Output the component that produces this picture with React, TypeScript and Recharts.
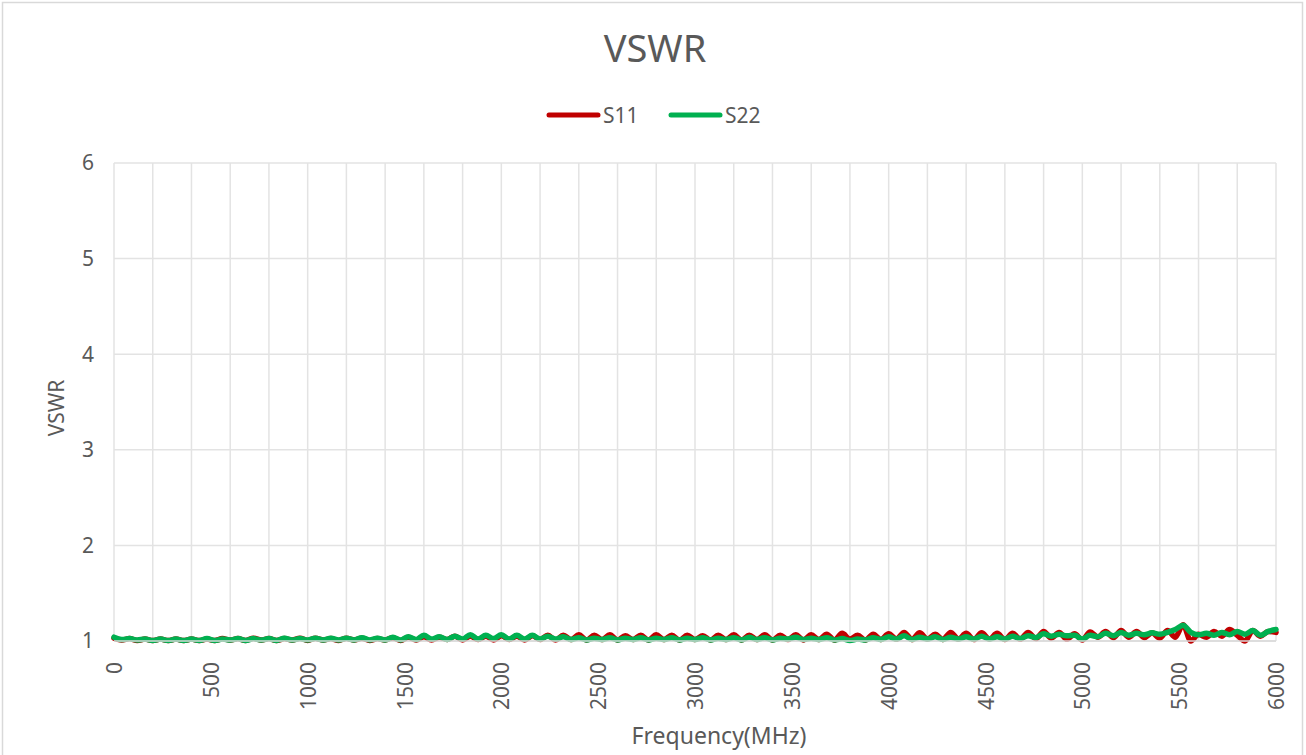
import React from 'react';
import { LineChart, Line, XAxis, YAxis, CartesianGrid } from 'recharts';

// VSWR samples, one every 40 MHz from 0 to 6000 MHz
const S11 = [
  1.03, 1.01, 1.025, 1.005, 1.02, 1.005, 1.02, 1.005, 1.02, 1.005,
  1.02, 1.005, 1.02, 1.005, 1.025, 1.01, 1.025, 1.005, 1.03, 1.01,
  1.025, 1.005, 1.025, 1.01, 1.03, 1.005, 1.03, 1.01, 1.025, 1.005,
  1.03, 1.01, 1.03, 1.005, 1.025, 1.01, 1.035, 1.005, 1.04, 1.01,
  1.045, 1.01, 1.04, 1.015, 1.05, 1.01, 1.05, 1.015, 1.05, 1.01,
  1.055, 1.015, 1.05, 1.01, 1.055, 1.015, 1.06, 1.01, 1.06, 1.015,
  1.065, 1.01, 1.06, 1.015, 1.065, 1.01, 1.055, 1.015, 1.06, 1.01,
  1.065, 1.015, 1.06, 1.01, 1.06, 1.015, 1.055, 1.01, 1.06, 1.015,
  1.065, 1.01, 1.06, 1.015, 1.065, 1.01, 1.06, 1.015, 1.065, 1.01,
  1.065, 1.015, 1.07, 1.01, 1.08, 1.02, 1.06, 1.01, 1.07, 1.015,
  1.075, 1.02, 1.09, 1.015, 1.085, 1.02, 1.07, 1.015, 1.09, 1.02,
  1.08, 1.015, 1.085, 1.02, 1.08, 1.015, 1.08, 1.02, 1.09, 1.025,
  1.1, 1.03, 1.09, 1.02, 1.075, 1.01, 1.095, 1.04, 1.1, 1.035,
  1.11, 1.04, 1.1, 1.035, 1.085, 1.03, 1.11, 1.04, 1.17, 1.0,
  1.07, 1.04, 1.1, 1.05, 1.12, 1.06, 1.0, 1.11, 1.05, 1.1, 1.09,
];

const S22 = [
  1.04, 1.015, 1.025, 1.01, 1.02, 1.005, 1.02, 1.005, 1.02, 1.005,
  1.02, 1.005, 1.025, 1.005, 1.02, 1.01, 1.025, 1.005, 1.025, 1.01,
  1.025, 1.005, 1.03, 1.01, 1.025, 1.01, 1.03, 1.01, 1.03, 1.01,
  1.03, 1.01, 1.035, 1.01, 1.03, 1.01, 1.04, 1.01, 1.045, 1.015,
  1.06, 1.02, 1.045, 1.015, 1.05, 1.02, 1.065, 1.02, 1.06, 1.025,
  1.065, 1.02, 1.06, 1.02, 1.06, 1.02, 1.05, 1.02, 1.045, 1.015,
  1.035, 1.01, 1.03, 1.015, 1.035, 1.01, 1.03, 1.015, 1.035, 1.01,
  1.03, 1.015, 1.035, 1.01, 1.03, 1.015, 1.035, 1.01, 1.03, 1.015,
  1.035, 1.01, 1.04, 1.015, 1.035, 1.01, 1.03, 1.02, 1.04, 1.015,
  1.03, 1.015, 1.035, 1.01, 1.025, 1.005, 1.02, 1.01, 1.035, 1.015,
  1.045, 1.02, 1.055, 1.015, 1.04, 1.02, 1.045, 1.015, 1.04, 1.02,
  1.045, 1.02, 1.05, 1.02, 1.045, 1.02, 1.05, 1.025, 1.055, 1.035,
  1.075, 1.05, 1.07, 1.055, 1.06, 1.02, 1.06, 1.045, 1.08, 1.055,
  1.09, 1.06, 1.08, 1.065, 1.085, 1.07, 1.09, 1.12, 1.165, 1.09,
  1.065, 1.08, 1.06, 1.09, 1.065, 1.1, 1.07, 1.11, 1.06, 1.1, 1.12,
];

const FREQ_STEP_MHZ = 40;
const X_TICKS = [0, 500, 1000, 1500, 2000, 2500, 3000, 3500, 4000, 4500, 5000, 5500, 6000];
const X_GRID = [
  0, 200, 400, 600, 800, 1000, 1200, 1400, 1600, 1800, 2000, 2200, 2400, 2600, 2800, 3000,
  3200, 3400, 3600, 3800, 4000, 4200, 4400, 4600, 4800, 5000, 5200, 5400, 5600, 5800, 6000,
];
const Y_TICKS = [1, 2, 3, 4, 5, 6];

const SERIES = [
  { key: 'S11', color: '#C00000' },
  { key: 'S22', color: '#00B050' },
];

const TITLE = 'VSWR';
const X_TITLE = 'Frequency(MHz)';
const Y_TITLE = 'VSWR';

const data = S11.map((v, i) => ({ freq: i * FREQ_STEP_MHZ, S11: v, S22: S22[i] }));

const FONT = '"Noto Sans", "DejaVu Sans", sans-serif';
const TEXT = '#595959';
const GRID = '#e3e3e3';

const XTick = (props: any) => {
  const { x, y, payload } = props;
  return (
    <text
      transform={`translate(${x + 8},${y + 21}) rotate(-90)`}
      textAnchor="end"
      fontSize={21}
      fill={TEXT}
      fontFamily={FONT}
    >
      {payload.value}
    </text>
  );
};

export default function App() {
  return (
    <div style={{ position: 'absolute', left: 0, top: 0, width: 1306, height: 755, background: '#fff', overflow: 'hidden' }}>
      <LineChart
        width={1306}
        height={755}
        data={data}
        margin={{ top: 163, right: 30, bottom: 0, left: 0 }}
      >
        <CartesianGrid stroke={GRID} strokeWidth={1.5} verticalValues={X_GRID} horizontalValues={Y_TICKS} />
        <XAxis
          dataKey="freq"
          type="number"
          domain={[0, 6000]}
          ticks={X_TICKS}
          interval={0}
          height={114}
          tickSize={0}
          tickMargin={0}
          tickLine={false}
          axisLine={{ stroke: '#d9d9d9', strokeWidth: 1.5 }}
          tick={<XTick />}
        />
        <YAxis
          type="number"
          domain={[1, 6]}
          ticks={Y_TICKS}
          width={114}
          tickSize={0}
          tickMargin={20}
          tickLine={false}
          axisLine={false}
          tick={{ fill: TEXT, fontSize: 21, fontFamily: FONT }}
        />
        {SERIES.map((s) => (
          <Line
            key={s.key}
            dataKey={s.key}
            name={s.key}
            type="monotone"
            stroke={s.color}
            strokeWidth={5.5}
            strokeLinecap="round"
            strokeLinejoin="round"
            dot={false}
            activeDot={false}
            isAnimationActive={false}
          />
        ))}
      </LineChart>
      <svg
        width={1306}
        height={755}
        style={{ position: 'absolute', left: 0, top: 0, pointerEvents: 'none' }}
      >
        <rect x={2.5} y={2.5} width={1300} height={780} fill="none" stroke="#d9d9d9" strokeWidth={1.5} />
        <text x={655} y={62} textAnchor="middle" fontSize={38} fill={TEXT} fontFamily={FONT}>
          {TITLE}
        </text>
        {SERIES.map((s, i) => (
          <g key={s.key}>
            <line x1={549 + i * 122} x2={598 + i * 122} y1={115} y2={115} stroke={s.color} strokeWidth={5} strokeLinecap="round" />
            <text x={603 + i * 122} y={123} fontSize={21} fill={TEXT} fontFamily={FONT}>
              {s.key}
            </text>
          </g>
        ))}
        <text x={719} y={744} textAnchor="middle" fontSize={23} fill={TEXT} fontFamily={FONT}>
          {X_TITLE}
        </text>
        <text transform="translate(64,408) rotate(-90)" textAnchor="middle" fontSize={21} fill={TEXT} fontFamily={FONT}>
          {Y_TITLE}
        </text>
      </svg>
    </div>
  );
}
